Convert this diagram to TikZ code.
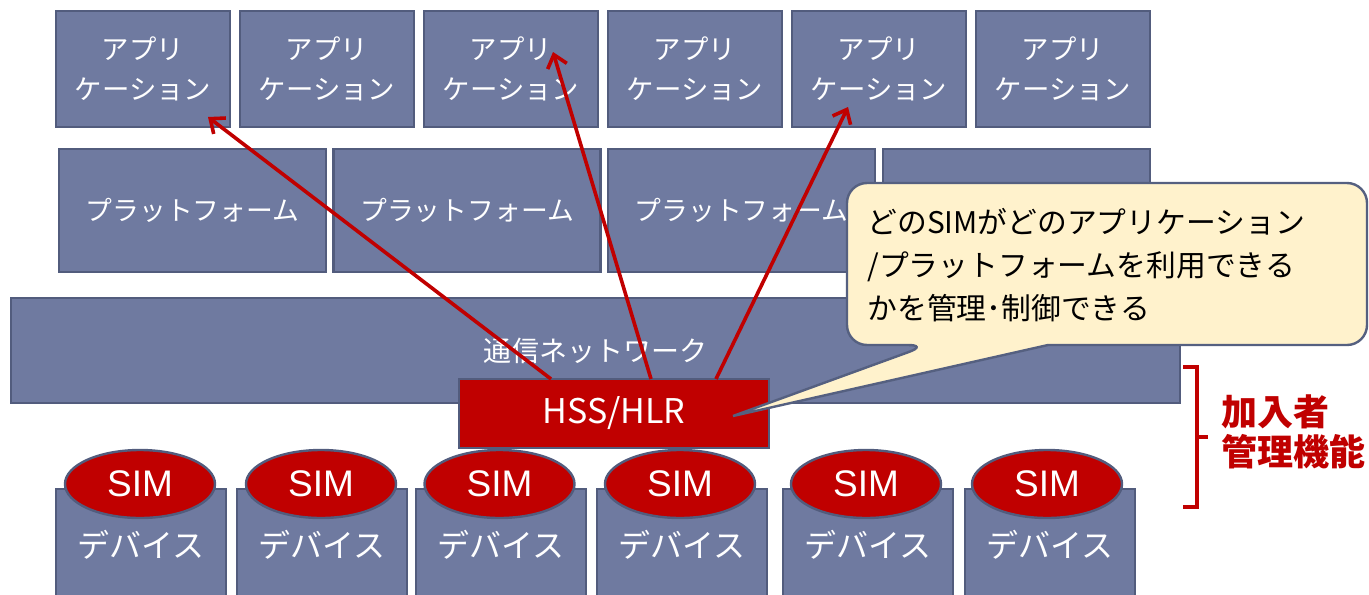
\documentclass[tikz,border=0pt]{standalone}
\usepackage{fontspec}
\setmainfont{Noto Sans CJK JP}
\newfontfamily\simfont{Liberation Sans}
\usetikzlibrary{arrows.meta,calc,shapes.geometric}
\definecolor{boxfill}{RGB}{111,122,160}
\definecolor{boxline}{RGB}{82,92,125}
\definecolor{redc}{RGB}{192,0,0}
\definecolor{callfill}{RGB}{255,242,204}
\definecolor{callline}{RGB}{85,96,128}
\begin{document}
\begin{tikzpicture}[x=0.5pt,y=-0.5pt,
  box/.style={draw=boxline,line width=1.2pt,fill=boxfill,text=white,inner sep=0pt,outer sep=0pt,anchor=north west,align=center},
  appbox/.style={box,minimum width=87pt,minimum height=58pt,font={\fontsize{13.7}{20}\selectfont}},
  platbox/.style={box,minimum width=133.5pt,minimum height=61.5pt,font={\fontsize{13.4}{16}\selectfont}},
  devbox/.style={box,minimum width=85pt,minimum height=56pt,font={\fontsize{16}{18}\selectfont}},
  simell/.style={ellipse,draw=boxline,line width=1.2pt,fill=redc,text=white,inner sep=0pt,minimum width=75pt,minimum height=34pt,font={\simfont\fontsize{18.5}{20}\selectfont}},
  redarrow/.style={draw=redc,line width=1.8pt,-{Straight Barb[length=6pt,width=10pt]}},
  bracket/.style={draw=redc,line width=2pt}
]
\useasboundingbox (0,0) rectangle (1369,594);
\clip (0,0) rectangle (1369,594);

% applications
\foreach \i in {0,...,5} {
  \node[appbox] (app\i) at ({56+184*\i},11) {アプリ\\ケーション};
}
% platforms
\node[platbox] (plat0) at (59,149) {プラットフォーム};
\node[platbox] (plat1) at (333.5,149) {プラットフォーム};
\node[platbox] (plat2) at (608,149) {プラットフォーム};
\node[platbox] (plat3) at (883,149) {};

% network
\node[box,minimum width=584.5pt,minimum height=52.5pt,font={\fontsize{14}{16}\selectfont}] (net) at (11,298) {通信ネットワーク};

% devices
\foreach \x [count=\k] in {56,237,416,597,783,965} {
  \node[devbox] (dev\k) at (\x,489) {デバイス};
}
\foreach \x [count=\k] in {140,321,499.5,680,866,1047} {
  \node[simell] (sim\k) at (\x,484) {SIM};
}

% HSS/HLR
\node[box,fill=redc,minimum width=155pt,minimum height=34.5pt,font={\fontsize{17}{19}\selectfont}] (hss) at (459,379) {HSS/HLR};

% arrows
\coordinate (s1) at (551,379);
\coordinate (s2) at (651,379);
\coordinate (s3) at (716,379);
\coordinate (t1) at (208,117);
\coordinate (t2) at (553,52);
\coordinate (t3) at (848,107);
\draw[redarrow] (s1) -- (t1);
\draw[redarrow] (s2) -- (t2);
\draw[redarrow] (s3) -- (t3);

% callout
\coordinate (tip) at (733,416);
\draw[fill=callfill,draw=callline,line width=1.2pt]
  (1100,183) [rounded corners=10pt] -- (847,183) -- (847,345) -- (928,345) [sharp corners] -- (tip) -- (1048,345) [rounded corners=10pt] -- (1367,345) -- (1367,183) -- cycle;
\node[anchor=west,align=left,inner sep=0pt,font={\fontsize{14.9}{21.5}\selectfont}] (calltext) at (867,265)
  {どのSIMがどのアプリケーション\\/プラットフォームを利用できる\\かを管理･制御できる};

% bracket and label
\coordinate (b1) at (1183,367);
\coordinate (b2) at (1197,367);
\coordinate (b3) at (1197,437);
\coordinate (b4) at (1208,437);
\coordinate (b5) at (1197,507);
\coordinate (b6) at (1183,507);
\draw[bracket] (b1) -- (b2) -- (b3) -- (b5) -- (b6);
\draw[bracket] (b3) -- (b4);
\node[anchor=west,align=left,inner sep=0pt,text=redc,font={\bfseries\fontsize{18}{20}\selectfont}] (kanyu) at (1221,432) {加入者\\管理機能};
\end{tikzpicture}
\end{document}
